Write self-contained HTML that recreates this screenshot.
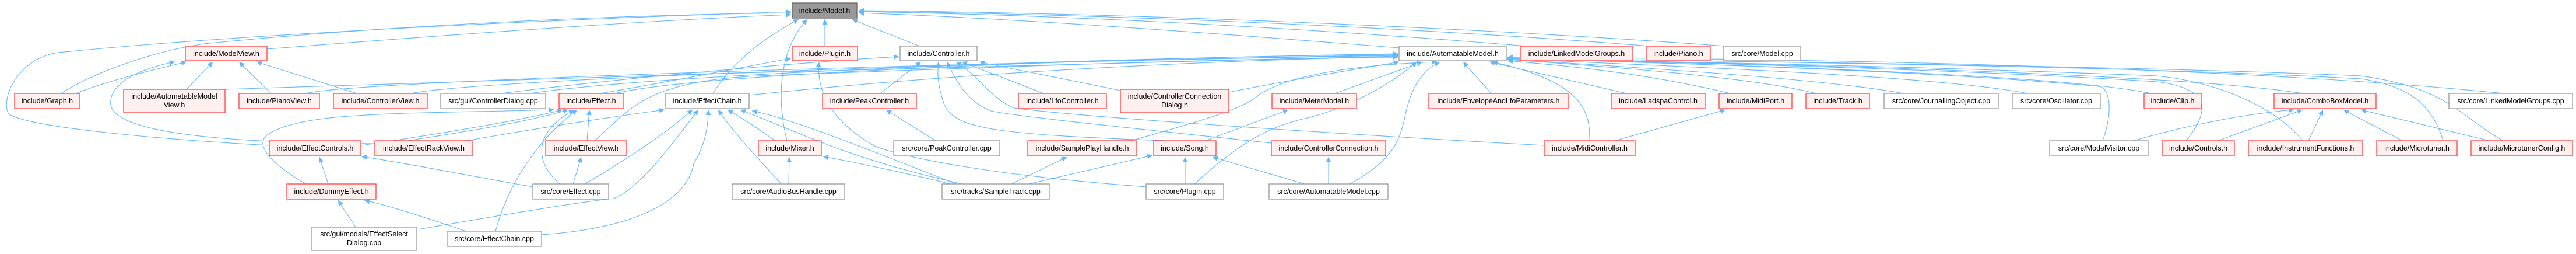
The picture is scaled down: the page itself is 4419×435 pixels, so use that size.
<!DOCTYPE html>
<html><head><meta charset="utf-8"><style>
html,body{margin:0;padding:0;background:#fff}
svg{display:block}
text{font-family:"Liberation Sans",Helvetica,Arial,sans-serif;font-size:12.5px;fill:#000;text-anchor:middle}
.r{fill:#fff0f0;stroke:#ff4040;stroke-width:1.3}
.w{fill:#fff;stroke:#999;stroke-width:1.3}
.g{fill:#999;stroke:#666;stroke-width:1.3}
.e path{fill:none;stroke:#63b8ff;stroke-width:1.1}
</style></head><body>
<svg width="4419" height="435" viewBox="0 0 4419 435" xmlns="http://www.w3.org/2000/svg">
<defs><marker id="a" viewBox="0 0 10 10" refX="10" refY="5" markerWidth="11" markerHeight="9" markerUnits="userSpaceOnUse" orient="auto"><path d="M0,0 L10,5 L0,10z" fill="#63b8ff"/></marker></defs>
<g class="e" marker-end="url(#a)">
<path d="M458,84 C700,65 1100,35 1357,25" marker-end="url(#a)"/>
<path d="M105,160 C150,130 250,90 350,75 C700,40 1100,25 1357,22" marker-end="url(#a)"/>
<path d="M462,249 C300,240 50,220 15,195 C0,170 30,100 100,90 C400,60 900,35 1357,20" marker-end="url(#a)"/>
<path d="M1223,160 C1260,100 1320,60 1370,33" marker-end="url(#a)"/>
<path d="M1350,241 C1330,160 1340,80 1385,33" marker-end="url(#a)"/>
<path d="M1415,79 L1415,33" marker-end="url(#a)"/>
<path d="M1577,79 C1530,60 1490,45 1462,33" marker-end="url(#a)"/>
<path d="M2400,82 C2000,50 1700,30 1473,22" marker-end="url(#a)"/>
<path d="M2620,79 C2200,45 1800,25 1473,20" marker-end="url(#a)"/>
<path d="M2830,79 C2400,45 1900,25 1473,19" marker-end="url(#a)"/>
<path d="M2960,79 C2500,45 1900,22 1473,18" marker-end="url(#a)"/>
<path d="M130,160 C180,140 260,120 320,106" marker-end="url(#a)"/>
<path d="M320,153 L365,106" marker-end="url(#a)"/>
<path d="M465,160 L410,106" marker-end="url(#a)"/>
<path d="M612,160 L440,106" marker-end="url(#a)"/>
<path d="M640,246 C400,245 200,230 190,180 C185,140 250,115 300,106" marker-end="url(#a)"/>
<path d="M386,153 C1000,130 2000,105 2398,96" marker-end="url(#a)"/>
<path d="M525,160 C600,140 1500,110 2398,95" marker-end="url(#a)"/>
<path d="M705,160 C800,140 1500,110 2398,94" marker-end="url(#a)"/>
<path d="M910,160 C1100,130 1800,100 2398,93" marker-end="url(#a)"/>
<path d="M1055,160 C1200,125 1900,100 2398,92" marker-end="url(#a)"/>
<path d="M1285,163 C1600,130 2000,105 2398,97" marker-end="url(#a)"/>
<path d="M1020,241 C1080,190 1100,140 1300,130 C1700,115 2100,100 2398,98" marker-end="url(#a)"/>
<path d="M2290,160 L2440,106" marker-end="url(#a)"/>
<path d="M1940,241 C2050,210 2120,190 2150,170 C2200,125 2350,110 2465,106" marker-end="url(#a)"/>
<path d="M2315,315 C2380,280 2400,250 2410,200 C2420,150 2440,120 2470,106" marker-end="url(#a)"/>
<path d="M2727,241 C2728,190 2715,140 2560,106" marker-end="url(#a)"/>
<path d="M2558,160 L2510,106" marker-end="url(#a)"/>
<path d="M2790,160 L2555,106" marker-end="url(#a)"/>
<path d="M2968,160 C2800,120 2650,110 2586,104" marker-end="url(#a)"/>
<path d="M3115,160 C3000,130 2700,110 2586,102" marker-end="url(#a)"/>
<path d="M3265,160 C3100,130 2700,110 2586,101" marker-end="url(#a)"/>
<path d="M3478,160 C3300,125 2700,108 2586,100" marker-end="url(#a)"/>
<path d="M3690,160 C3500,120 2700,106 2586,99" marker-end="url(#a)"/>
<path d="M3950,160 C3700,120 2800,106 2586,99" marker-end="url(#a)"/>
<path d="M3750,241 C3800,180 3780,150 3700,140 C3300,115 2800,106 2586,100" marker-end="url(#a)"/>
<path d="M3950,241 C3900,180 3800,140 3700,130 C3200,110 2800,105 2586,100" marker-end="url(#a)"/>
<path d="M4191,241 C4170,170 4120,145 4050,135 C3600,110 2800,104 2586,99" marker-end="url(#a)"/>
<path d="M4294,241 C4220,200 4200,150 4050,130 C3600,110 2800,104 2586,99" marker-end="url(#a)"/>
<path d="M4295,160 C3800,110 3000,100 2586,98" marker-end="url(#a)"/>
<path d="M3607,241 C3625,190 3620,150 3600,148 C3300,120 2800,106 2586,100" marker-end="url(#a)"/>
<path d="M2108,158 C2250,130 2350,115 2400,106" marker-end="url(#a)"/>
<path d="M1510,160 L1580,106" marker-end="url(#a)"/>
<path d="M1790,160 L1650,106" marker-end="url(#a)"/>
<path d="M1922,155 C1800,130 1720,115 1680,106" marker-end="url(#a)"/>
<path d="M2000,241 C1700,230 1640,220 1620,180 C1610,150 1607,130 1610,106" marker-end="url(#a)"/>
<path d="M2190,246 C1900,215 1750,200 1700,190 C1660,175 1640,140 1625,106" marker-end="url(#a)"/>
<path d="M2649,249 C2300,230 1850,200 1740,185 C1700,170 1680,130 1640,106" marker-end="url(#a)"/>
<path d="M860,160 C1100,130 1400,105 1542,97" marker-end="url(#a)"/>
<path d="M1030,160 C1150,140 1300,110 1357,100" marker-end="url(#a)"/>
<path d="M1966,320 C1700,300 1550,270 1500,250 C1430,210 1400,160 1405,106" marker-end="url(#a)"/>
<path d="M700,241 C800,225 900,210 975,188" marker-end="url(#a)"/>
<path d="M620,249 C750,230 900,205 965,188" marker-end="url(#a)"/>
<path d="M1007,241 L1011,188" marker-end="url(#a)"/>
<path d="M960,315 C920,280 910,230 985,188" marker-end="url(#a)"/>
<path d="M850,396 C870,320 920,240 990,188" marker-end="url(#a)"/>
<path d="M525,315 C480,290 430,250 460,230 C520,190 700,195 950,188" marker-end="url(#a)"/>
<path d="M800,241 C950,215 1050,200 1140,188" marker-end="url(#a)"/>
<path d="M1003,315 C1080,270 1140,230 1188,188" marker-end="url(#a)"/>
<path d="M929,402 C1100,390 1180,340 1190,280 C1215,240 1215,200 1215,188" marker-end="url(#a)"/>
<path d="M717,393 C850,370 1000,345 1053,340 C1100,320 1150,250 1198,188" marker-end="url(#a)"/>
<path d="M1340,315 C1300,270 1260,230 1232,188" marker-end="url(#a)"/>
<path d="M1330,241 C1300,220 1270,200 1248,188" marker-end="url(#a)"/>
<path d="M1650,315 C1450,270 1380,230 1270,188" marker-end="url(#a)"/>
<path d="M1640,315 C1500,260 1350,200 1290,190" marker-end="url(#a)"/>
<path d="M563,315 L548,269" marker-end="url(#a)"/>
<path d="M914,320 C800,300 700,280 620,268" marker-end="url(#a)"/>
<path d="M610,389 L580,343" marker-end="url(#a)"/>
<path d="M800,396 C750,380 680,355 625,343" marker-end="url(#a)"/>
<path d="M983,315 L997,269" marker-end="url(#a)"/>
<path d="M1353,315 L1354,269" marker-end="url(#a)"/>
<path d="M1630,315 C1550,295 1450,275 1412,268" marker-end="url(#a)"/>
<path d="M1605,241 L1520,188" marker-end="url(#a)"/>
<path d="M1735,315 L1830,269" marker-end="url(#a)"/>
<path d="M1765,315 L1977,266" marker-end="url(#a)"/>
<path d="M2033,315 L2033,269" marker-end="url(#a)"/>
<path d="M2238,315 L2080,269" marker-end="url(#a)"/>
<path d="M2068,241 L2210,188" marker-end="url(#a)"/>
<path d="M2279,315 L2279,269" marker-end="url(#a)"/>
<path d="M2770,241 L2960,188" marker-end="url(#a)"/>
<path d="M3660,241 C3750,215 3850,195 3935,188" marker-end="url(#a)"/>
<path d="M3805,241 L3950,188" marker-end="url(#a)"/>
<path d="M3960,241 L3985,188" marker-end="url(#a)"/>
<path d="M4121,241 L4020,188" marker-end="url(#a)"/>
<path d="M4270,241 L4050,188" marker-end="url(#a)"/>
<path d="M2049,315 C2120,250 2170,220 2230,205 C2300,190 2380,150 2430,106" marker-end="url(#a)"/>
</g>
<g>
<rect class="g" x="1359" y="5" width="111" height="26"/><text x="1414.5" y="22.5">include/Model.h</text>
<rect class="r" x="318" y="79" width="140" height="25"/><text x="388" y="96">include/ModelView.h</text>
<rect class="r" x="1359" y="79" width="112" height="25"/><text x="1415" y="96">include/Plugin.h</text>
<rect class="w" x="1544" y="79" width="132" height="25"/><text x="1610" y="96">include/Controller.h</text>
<rect class="w" x="2400" y="79" width="184" height="25"/><text x="2492" y="96">include/AutomatableModel.h</text>
<rect class="r" x="2608" y="79" width="193" height="25"/><text x="2704.5" y="96">include/LinkedModelGroups.h</text>
<rect class="r" x="2824" y="79" width="110" height="25"/><text x="2879" y="96">include/Piano.h</text>
<rect class="w" x="2957" y="79" width="132" height="25"/><text x="3023" y="96">src/core/Model.cpp</text>

<rect class="r" x="25" y="160" width="112" height="26"/><text x="81" y="177">include/Graph.h</text>
<rect class="r" x="212" y="153" width="174" height="40"/><text x="299" y="169">include/AutomatableModel</text><text x="299" y="184">View.h</text>
<rect class="r" x="410" y="160" width="138" height="26"/><text x="479" y="177">include/PianoView.h</text>
<rect class="r" x="572" y="160" width="161" height="26"/><text x="652.5" y="177">include/ControllerView.h</text>
<rect class="w" x="756" y="160" width="180" height="26"/><text x="846" y="177">src/gui/ControllerDialog.cpp</text>
<rect class="r" x="959" y="160" width="110" height="26"/><text x="1014" y="177">include/Effect.h</text>
<rect class="w" x="1142" y="160" width="143" height="26"/><text x="1213.5" y="177">include/EffectChain.h</text>
<rect class="r" x="1411" y="160" width="161" height="26"/><text x="1491.5" y="177">include/PeakController.h</text>
<rect class="r" x="1747" y="160" width="151" height="26"/><text x="1822.5" y="177">include/LfoController.h</text>
<rect class="r" x="1922" y="153" width="186" height="40"/><text x="2015" y="169">include/ControllerConnection</text><text x="2015" y="184">Dialog.h</text>
<rect class="r" x="2182" y="160" width="145" height="26"/><text x="2254.5" y="177">include/MeterModel.h</text>
<rect class="r" x="2451" y="160" width="239" height="26"/><text x="2570.5" y="177">include/EnvelopeAndLfoParameters.h</text>
<rect class="r" x="2764" y="160" width="161" height="26"/><text x="2844.5" y="177">include/LadspaControl.h</text>
<rect class="r" x="2949" y="160" width="125" height="26"/><text x="3011.5" y="177">include/MidiPort.h</text>
<rect class="r" x="3098" y="160" width="109" height="26"/><text x="3152.5" y="177">include/Track.h</text>
<rect class="w" x="3232" y="160" width="196" height="26"/><text x="3330" y="177">src/core/JournallingObject.cpp</text>
<rect class="w" x="3452" y="160" width="151" height="26"/><text x="3527.5" y="177">src/core/Oscillator.cpp</text>
<rect class="r" x="3678" y="160" width="98" height="26"/><text x="3727" y="177">include/Clip.h</text>
<rect class="r" x="3901" y="160" width="175" height="26"/><text x="3988.5" y="177">include/ComboBoxModel.h</text>
<rect class="w" x="4201" y="160" width="212" height="26"/><text x="4307" y="177">src/core/LinkedModelGroups.cpp</text>

<rect class="r" x="462" y="241" width="157" height="26"/><text x="540.5" y="258">include/EffectControls.h</text>
<rect class="r" x="643" y="241" width="168" height="26"/><text x="727" y="258">include/EffectRackView.h</text>
<rect class="r" x="936" y="241" width="139" height="26"/><text x="1005.5" y="258">include/EffectView.h</text>
<rect class="r" x="1301" y="241" width="108" height="26"/><text x="1355" y="258">include/Mixer.h</text>
<rect class="w" x="1533" y="241" width="182" height="26"/><text x="1624" y="258">src/core/PeakController.cpp</text>
<rect class="r" x="1763" y="241" width="187" height="26"/><text x="1856.5" y="258">include/SamplePlayHandle.h</text>
<rect class="r" x="1979" y="241" width="107" height="26"/><text x="2032.5" y="258">include/Song.h</text>
<rect class="r" x="2181" y="241" width="196" height="26"/><text x="2279" y="258">include/ControllerConnection.h</text>
<rect class="r" x="2649" y="241" width="156" height="26"/><text x="2727" y="258">include/MidiController.h</text>
<rect class="w" x="3516" y="241" width="169" height="26"/><text x="3600.5" y="258">src/core/ModelVisitor.cpp</text>
<rect class="r" x="3709" y="241" width="124" height="26"/><text x="3771" y="258">include/Controls.h</text>
<rect class="r" x="3857" y="241" width="196" height="26"/><text x="3955" y="258">include/InstrumentFunctions.h</text>
<rect class="r" x="4077" y="241" width="138" height="26"/><text x="4146" y="258">include/Microtuner.h</text>
<rect class="r" x="4239" y="241" width="174" height="26"/><text x="4326" y="258">include/MicrotunerConfig.h</text>

<rect class="r" x="492" y="315" width="153" height="26"/><text x="568.5" y="332">include/DummyEffect.h</text>
<rect class="w" x="914" y="315" width="130" height="26"/><text x="979" y="332">src/core/Effect.cpp</text>
<rect class="w" x="1256" y="315" width="193" height="26"/><text x="1352.5" y="332">src/core/AudioBusHandle.cpp</text>
<rect class="w" x="1616" y="315" width="184" height="26"/><text x="1708" y="332">src/tracks/SampleTrack.cpp</text>
<rect class="w" x="1966" y="315" width="133" height="26"/><text x="2032.5" y="332">src/core/Plugin.cpp</text>
<rect class="w" x="2177" y="315" width="204" height="26"/><text x="2279" y="332">src/core/AutomatableModel.cpp</text>

<rect class="w" x="534" y="389" width="181" height="40"/><text x="624.5" y="405">src/gui/modals/EffectSelect</text><text x="624.5" y="420">Dialog.cpp</text>
<rect class="w" x="767" y="396" width="162" height="26"/><text x="848" y="413">src/core/EffectChain.cpp</text>
</g>
</svg>
</body></html>
